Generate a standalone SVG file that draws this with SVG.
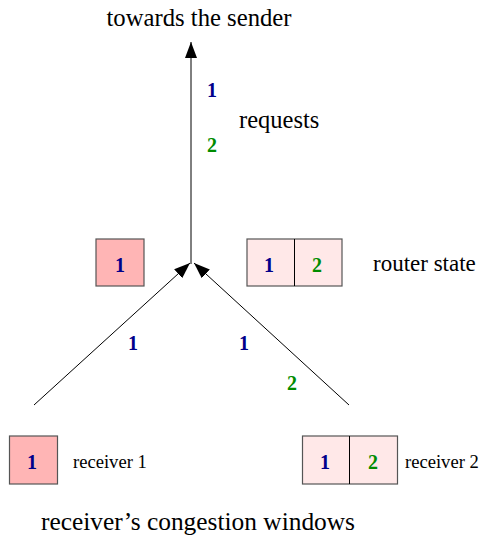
<svg xmlns="http://www.w3.org/2000/svg" width="487" height="535" viewBox="0 0 487 535">
<style>
.t{font-family:"Liberation Serif","Times New Roman",serif;fill:#000}
.n{font-family:"Liberation Serif","Times New Roman",serif;font-weight:bold;font-size:20px;text-anchor:middle}
.b{fill:#00008b}
.g{fill:#008c00}
.full{fill:#ffb5b5;stroke:#555;stroke-width:1.2}
.part{fill:#ffe8e8;stroke:#555;stroke-width:1.2}
.ln{stroke:#000;stroke-width:1;fill:none}
</style>
<defs>
<marker id="ah" viewBox="0 0 16 12" refX="16" refY="6" markerWidth="16" markerHeight="12" markerUnits="userSpaceOnUse" orient="auto">
<path d="M0,0 L16,6 L0,12 Z" fill="#000"/>
</marker>
</defs>
<g id="connectors">
<line class="ln" x1="191" y1="264" x2="191" y2="42" marker-end="url(#ah)"/>
<line class="ln" x1="34" y1="405" x2="190" y2="263" marker-end="url(#ah)"/>
<line class="ln" x1="349" y1="405" x2="194" y2="263" marker-end="url(#ah)"/>
</g>
<g id="labels">
<text class="t" x="199" y="26" font-size="24.7" text-anchor="middle">towards the sender</text>
<text class="n b" x="212" y="97">1</text>
<text class="n g" x="212" y="152">2</text>
<text class="t" x="239" y="128" font-size="24.5">requests</text>
<text class="n b" x="133" y="350">1</text>
<text class="n b" x="244" y="350">1</text>
<text class="n g" x="292" y="390">2</text>
<text class="t" x="198" y="530" font-size="25.4" text-anchor="middle">receiver’s congestion windows</text>
</g>
<g id="router-left">
<rect class="full" x="96" y="239" width="48" height="47"/>
<text class="n b" x="120" y="272">1</text>
</g>
<g id="router-right">
<rect class="part" x="247" y="239" width="95" height="47"/>
<line x1="294.5" y1="239" x2="294.5" y2="286" stroke="#000" stroke-width="1"/>
<text class="n b" x="269" y="272">1</text>
<text class="n g" x="317" y="272">2</text>
<text class="t" x="373" y="271" font-size="23">router state</text>
</g>
<g id="receiver1">
<rect class="full" x="9.5" y="436" width="48" height="48"/>
<text class="n b" x="32" y="469">1</text>
<text class="t" x="73" y="468" font-size="18.6">receiver 1</text>
</g>
<g id="receiver2">
<rect class="part" x="302.5" y="436" width="95" height="48"/>
<line x1="349.5" y1="436" x2="349.5" y2="484" stroke="#000" stroke-width="1"/>
<text class="n b" x="325" y="469">1</text>
<text class="n g" x="373" y="469">2</text>
<text class="t" x="405" y="468" font-size="18.6">receiver 2</text>
</g>
</svg>
